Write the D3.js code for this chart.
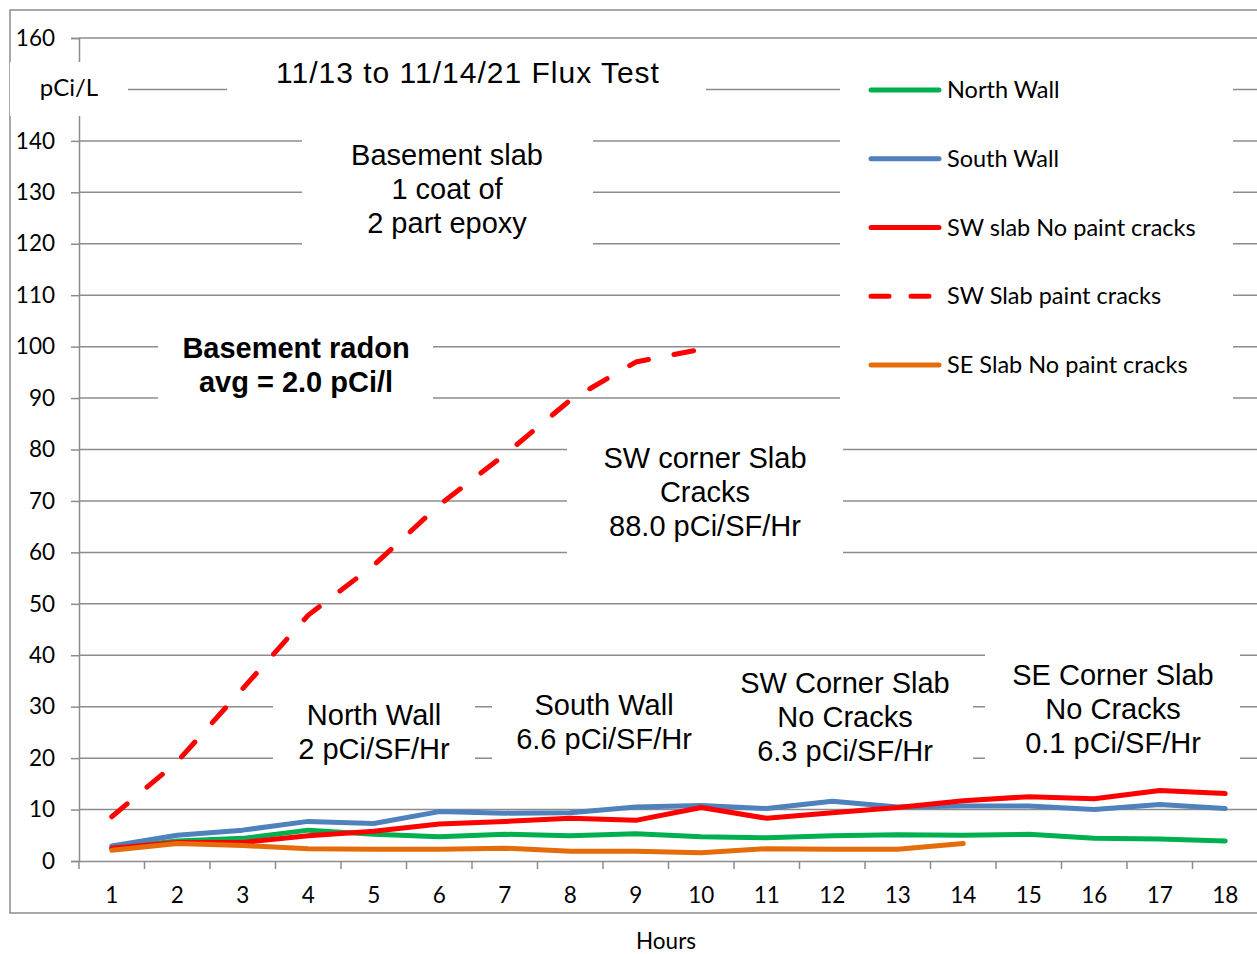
<!DOCTYPE html>
<html>
<head>
<meta charset="utf-8">
<script src="https://cdn.jsdelivr.net/npm/d3@7"></script>
<style>
  body { margin: 0; background: #fff; }
  svg { display: block; }
  .tick text { font-family: Lato, "Open Sans", sans-serif; font-size: 22.5px; fill: #000; }
  .note { font-family: "Liberation Sans", Arial, sans-serif; font-size: 29px; fill: #000; }
</style>
</head>
<body>
<svg id="chart"></svg>
<script>
const hours = [1, 2, 3, 4, 5, 6, 7, 8, 9, 10, 11, 12, 13, 14, 15, 16, 17, 18];
const yTicks = [0, 10, 20, 30, 40, 50, 60, 70, 80, 90, 100, 110, 120, 130, 140, 150, 160];

const northWall = [2.5, 3.9, 4.4, 6.0, 5.2, 4.7, 5.2, 4.9, 5.3, 4.7, 4.5, 4.9, 5.1, 5.0, 5.2, 4.4, 4.3, 3.9];
const southWall = [2.9, 5.0, 6.0, 7.7, 7.3, 9.6, 9.3, 9.4, 10.5, 10.8, 10.2, 11.6, 10.5, 10.7, 10.7, 10.0, 11.0, 10.2];
const swSlabNoPaint = [2.5, 3.6, 3.6, 4.9, 5.8, 7.2, 7.7, 8.3, 7.9, 10.4, 8.3, 9.4, 10.4, 11.7, 12.5, 12.1, 13.7, 13.1];
const swSlabPaint = [8.6, 19.3, 33.5, 47.8, 57.5, 69.2, 79.0, 89.6, 97.0, 99.5];
const seSlabNoPaint = [2.1, 3.4, 3.0, 2.4, 2.3, 2.3, 2.5, 1.9, 1.9, 1.6, 2.4, 2.3, 2.3, 3.4];

const seriesNames = ["North Wall", "South Wall", "SW slab No paint cracks", "SW Slab paint cracks", "SE Slab No paint cracks"];
const seriesValues = [northWall, southWall, swSlabNoPaint, swSlabPaint, seSlabNoPaint];
const seriesColors = ["#00B050", "#4F81BD", "#FF0000", "#FF0000", "#E46C0A"];
const seriesDashed = [false, false, false, true, false];

const W = 1257, H = 954;
const plot = { left: 79, right: 1258, top: 38, bottom: 861 };
const gridColor = "#8c8c8c";

const svg = d3.select("#chart").attr("width", W).attr("height", H);

svg.append("rect").attr("width", W).attr("height", H).attr("fill", "#fff");

// outer chart border (right side runs off the page)
svg.append("rect")
    .attr("x", 10).attr("y", 10)
    .attr("width", W + 20).attr("height", 903)
    .attr("fill", "none")
    .attr("stroke", gridColor)
    .attr("stroke-width", 1.5);

const x = d3.scaleBand().domain(hours).range([plot.left, plot.right]);
const y = d3.scaleLinear().domain([0, 160]).range([plot.bottom, plot.top]);

// gridlines
svg.append("g")
    .selectAll("line")
    .data(yTicks.filter(d => d > 0))
    .enter()
    .append("line")
    .attr("x1", plot.left).attr("x2", plot.right)
    .attr("y1", d => y(d)).attr("y2", d => y(d))
    .attr("stroke", gridColor)
    .attr("stroke-width", 1.5);

// y axis
const yAxis = svg.append("g")
    .attr("transform", `translate(${plot.left}, 0)`)
    .call(d3.axisLeft(y).tickValues(yTicks).tickSize(8).tickPadding(16));
yAxis.select(".domain").attr("stroke", gridColor).attr("stroke-width", 1.5);
yAxis.selectAll(".tick line").attr("stroke", gridColor).attr("stroke-width", 1.5);
// the 150 label sits under the unit box in the original
yAxis.selectAll(".tick").filter(d => d === 150).select("text").remove();

// x axis
const xAxis = svg.append("g")
    .attr("transform", `translate(0, ${plot.bottom})`)
    .call(d3.axisBottom(x).tickSize(0).tickPadding(26));
xAxis.select(".domain").attr("stroke", gridColor).attr("stroke-width", 1.5);

svg.append("g")
    .selectAll("line")
    .data(hours.map(d => x(d)).concat([plot.right]))
    .enter()
    .append("line")
    .attr("x1", d => d).attr("x2", d => d)
    .attr("y1", plot.bottom).attr("y2", plot.bottom + 8)
    .attr("stroke", gridColor)
    .attr("stroke-width", 1.5);

svg.append("text")
    .attr("x", 666).attr("y", 949)
    .style("font-family", "Lato, sans-serif")
    .style("font-size", "22.5px")
    .style("text-anchor", "middle")
    .text("Hours");

// white text boxes that sit on top of the gridlines
const notes = [
    { box: [10, 62, 118, 54], cx: 69, lines: ["pCi/L"], y0: 96, size: 24, font: "Lato, sans-serif" },
    { box: [227, 55, 479, 66], cx: 468, lines: ["11/13 to 11/14/21 Flux Test"], y0: 83, size: 30, spacing: 1 },
    { box: [302, 128, 291, 128], cx: 447, lines: ["Basement slab", "1 coat of", "2 part epoxy"], y0: 165 },
    { box: [158, 325, 275, 85], cx: 296, lines: ["Basement radon", "avg = 2.0 pCi/l"], y0: 358, bold: true },
    { box: [567, 436, 276, 129], cx: 705, lines: ["SW corner Slab", "Cracks", "88.0 pCi/SF/Hr"], y0: 468 },
    { box: [273, 690, 202, 80], cx: 374, lines: ["North Wall", "2 pCi/SF/Hr"], y0: 725 },
    { box: [492, 680, 224, 90], cx: 604, lines: ["South Wall", "6.6 pCi/SF/Hr"], y0: 715 },
    { box: [716, 662, 257, 118], cx: 845, lines: ["SW Corner Slab", "No Cracks", "6.3 pCi/SF/Hr"], y0: 693 },
    { box: [985, 645, 255, 140], cx: 1113, lines: ["SE Corner Slab", "No Cracks", "0.1 pCi/SF/Hr"], y0: 685 }
];

notes.forEach(function (n) {
    svg.append("rect")
        .attr("x", n.box[0]).attr("y", n.box[1])
        .attr("width", n.box[2]).attr("height", n.box[3])
        .attr("fill", "#fff");
    const t = svg.append("text")
        .attr("class", "note")
        .style("text-anchor", "middle")
        .style("font-weight", n.bold ? "bold" : "normal");
    if (n.size) t.style("font-size", n.size + "px");
    if (n.font) t.style("font-family", n.font);
    if (n.spacing) t.style("letter-spacing", n.spacing + "px");
    n.lines.forEach(function (line, i) {
        t.append("tspan")
            .attr("x", n.cx)
            .attr("y", n.y0 + i * 34)
            .text(line);
    });
});

// series
const line = d3.line()
    .x((d, i) => x(hours[i]) + x.bandwidth() / 2)
    .y(d => y(d));

svg.append("g")
    .selectAll("path")
    .data(seriesValues)
    .enter()
    .append("path")
    .attr("d", line)
    .attr("fill", "none")
    .attr("stroke", (d, i) => seriesColors[i])
    .attr("stroke-width", 5)
    .attr("stroke-linejoin", "round")
    .attr("stroke-linecap", "round")
    .attr("stroke-dasharray", (d, i) => seriesDashed[i] ? "20,26" : null);

// legend
svg.append("rect")
    .attr("x", 840).attr("y", 55)
    .attr("width", 393).attr("height", 365)
    .attr("fill", "#fff");

const legend = svg.append("g")
    .selectAll("g")
    .data(seriesNames)
    .enter()
    .append("g")
    .attr("transform", (d, i) => `translate(0, ${90 + i * 68.75})`);

legend.append("line")
    .attr("x1", 871).attr("x2", 939)
    .attr("stroke", (d, i) => seriesColors[i])
    .attr("stroke-width", 5)
    .attr("stroke-linecap", "round")
    .attr("stroke-dasharray", (d, i) => seriesDashed[i] ? "18,22" : null);

legend.append("text")
    .attr("x", 947)
    .attr("dy", "0.35em")
    .style("font-family", "Lato, sans-serif")
    .style("font-size", "23.5px")
    .text(d => d);
</script>
</body>
</html>
